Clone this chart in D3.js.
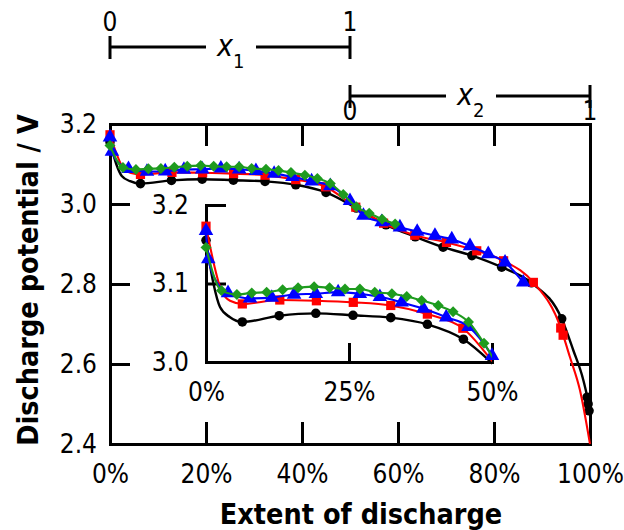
<!DOCTYPE html>
<html>
<head>
<meta charset="utf-8">
<script src="https://cdn.jsdelivr.net/npm/d3@7"></script>
<style>
  body { margin: 0; background: #fff; }
  text { font-family: "DejaVu Sans Condensed", "DejaVu Sans", sans-serif; }
</style>
</head>
<body>
<div id="chart"></div>
<script>
/**
 * DATA  [extent of discharge (%), potential (V)]
 * marks = points drawn with a symbol, extra = line-only points
 */
const blackMarks = [[0, 3.155], [6.35, 3.051], [12.8, 3.059], [19.2, 3.062], [25.7, 3.0595], [32.3, 3.0565],
  [38.7, 3.048], [45, 3.029], [51.3, 2.99], [57.5, 2.948], [63.6, 2.918], [69.4, 2.892], [75.4, 2.871],
  [81.6, 2.842], [87.8, 2.803], [94.1, 2.713], [99.4, 2.517], [99.6, 2.5], [99.8, 2.483]];
const blackExtra = [[1.3, 3.1], [2.45, 3.07], [4.2, 3.057], [96.5, 2.635], [98.6, 2.56]];

const redMarks = [[0, 3.173], [6.35, 3.074], [12.9, 3.079], [19.3, 3.078], [25.75, 3.076], [32.3, 3.072],
  [38.7, 3.061], [44.9, 3.043], [51.2, 2.992], [57, 2.952], [63.5, 2.922], [70.1, 2.904], [76.4, 2.883],
  [82, 2.858], [88.2, 2.804], [93.9, 2.69], [94.4, 2.672]];
const redExtra = [[2.7, 3.091], [4.2, 3.078], [95.8, 2.618], [97.9, 2.535], [100, 2.4]];

const blueMarks = [[0, 3.167], [0.4, 3.131], [3.85, 3.088], [7.7, 3.081], [11.5, 3.082], [15.4, 3.086],
  [19.2, 3.087], [23.1, 3.089], [26.9, 3.087], [30.4, 3.083], [34.2, 3.076], [38, 3.068], [42, 3.057],
  [45.9, 3.045], [50, 3.008], [52.8, 2.971], [56.6, 2.955], [60.4, 2.942], [64, 2.931], [67.7, 2.921],
  [71.2, 2.912], [75, 2.895], [78.8, 2.875], [82.3, 2.854], [86.1, 2.804]];
const blueExtra = [[2.2, 3.098]];

const greenMarks = [[0, 3.146], [2.7, 3.091], [5.4, 3.086], [8, 3.088], [10.6, 3.089], [13.4, 3.092],
  [16.1, 3.0945], [18.9, 3.096], [21.6, 3.0945], [24.3, 3.093], [26.9, 3.093], [29.5, 3.089], [32.5, 3.087],
  [35.1, 3.0835], [37.7, 3.0785], [40.6, 3.072], [43.2, 3.064], [45.9, 3.051], [48.6, 3.024], [51.3, 2.993],
  [54, 2.977], [56.7, 2.962], [59.4, 2.95]];
const greenExtra = [];

const xTicks = [0, 20, 40, 60, 80, 100];
const yTicks = [2.4, 2.6, 2.8, 3.0, 3.2];
const insetXTicks = [0, 25, 50];
const insetYTicks = [3.0, 3.1, 3.2];
const barTicks = [0, 1];

/**
 * CONSTANTS
 * */
const width = 624, height = 530;
const FONT = 26;
const TITLE_FONT = 28.5;

const series = [
  { marks: blackMarks, extra: blackExtra, color: "#000000", sym: d3.symbolCircle, size: 72, rot: 0 },
  { marks: redMarks, extra: redExtra, color: "#ff0000", sym: d3.symbolSquare, size: 85, rot: 0 },
  { marks: blueMarks, extra: blueExtra, color: "#0000ff", sym: d3.symbolTriangle, size: 92, rot: 0 },
  { marks: greenMarks, extra: greenExtra, color: "#1e9b1e", sym: d3.symbolSquare, size: 60, rot: 45 }
];

const svg = d3.select("#chart").append("svg")
  .attr("width", width)
  .attr("height", height);

// main scales
const x = d3.scaleLinear().domain([0, 100]).range([110, 590]);
const y = d3.scaleLinear().domain([2.4, 3.2]).range([444, 124]);
// inset scales
const xi = d3.scaleLinear().domain([0, 50]).range([206, 492]);
const yi = d3.scaleLinear().domain([3.0, 3.2]).range([362, 205]);
// x1 / x2 bars
const xs1 = d3.scaleLinear().domain([0, 1]).range([110, 350]);
const xs2 = d3.scaleLinear().domain([0, 1]).range([350, 590]);

function styleAxis(g) {
  g.attr("font-family", null).attr("font-size", FONT);
  g.select(".domain").attr("stroke-width", 3).attr("stroke-linecap", "square");
  g.selectAll(".tick line").attr("stroke-width", 3);
  g.selectAll(".tick text").attr("fill", "#000");
}

const pct = d => d + "%";

// main axes
svg.append("g").attr("transform", "translate(0,444)")
  .call(d3.axisBottom(x).tickValues(xTicks).tickSize(-22).tickSizeOuter(0).tickPadding(21).tickFormat(pct))
  .call(styleAxis);
svg.append("g").attr("transform", "translate(0,124)")
  .call(d3.axisTop(x).tickValues([20, 40, 60, 80]).tickSize(-22).tickSizeOuter(0).tickFormat(""))
  .call(styleAxis);
svg.append("g").attr("transform", "translate(110,0)")
  .call(d3.axisLeft(y).tickValues(yTicks).tickSize(-20).tickSizeOuter(0).tickPadding(13).tickFormat(d3.format(".1f")))
  .call(styleAxis);
svg.append("g").attr("transform", "translate(590,0)")
  .call(d3.axisRight(y).tickValues([2.6, 2.8, 3.0]).tickSize(-20).tickSizeOuter(0).tickFormat(""))
  .call(styleAxis);

// inset axes
svg.append("g").attr("transform", "translate(0,362)")
  .call(d3.axisBottom(xi).tickValues(insetXTicks).tickSize(-19).tickSizeOuter(0).tickPadding(21).tickFormat(pct))
  .call(styleAxis);
svg.append("g").attr("transform", "translate(206,0)")
  .call(d3.axisLeft(yi).tickValues(insetYTicks).tickSize(-20).tickSizeOuter(0).tickPadding(17).tickFormat(d3.format(".1f")))
  .call(styleAxis);

// inset clip so lines stop at 50%
svg.append("clipPath").attr("id", "insetClip")
  .append("rect")
  .attr("x", xi(0) - 12).attr("y", yi(3.2) - 30)
  .attr("width", xi(50) - xi(0) + 12).attr("height", yi(3.0) - yi(3.2) + 40);

function drawSeries(g, sx, sy, maxX, clip) {
  series.forEach(s => {
    const pts = s.marks.concat(s.extra).sort((a, b) => a[0] - b[0]);
    const line = d3.line().x(d => sx(d[0])).y(d => sy(d[1])).curve(d3.curveMonotoneX);
    const path = g.append("path")
      .attr("d", line(pts))
      .attr("fill", "none")
      .attr("stroke", s.color)
      .attr("stroke-width", s.color === "#000000" ? 2.4 : 2.1);
    if (clip) path.attr("clip-path", "url(#insetClip)");
    const sym = d3.symbol().type(s.sym).size(s.size);
    g.selectAll(null)
      .data(s.marks.filter(d => d[0] <= maxX + 0.01))
      .join("path")
      .attr("d", sym)
      .attr("fill", s.color)
      .attr("transform", d => `translate(${sx(d[0])},${sy(d[1])}) rotate(${s.rot})`);
  });
}

drawSeries(svg.append("g"), x, y, 100, false);
drawSeries(svg.append("g"), xi, yi, 50, true);

// axis titles
svg.append("text")
  .attr("x", 361).attr("y", 524)
  .attr("text-anchor", "middle")
  .attr("font-size", TITLE_FONT).attr("font-weight", "bold")
  .text("Extent of discharge");
svg.append("text")
  .attr("transform", "translate(38,280) rotate(-90)")
  .attr("text-anchor", "middle")
  .attr("font-size", TITLE_FONT).attr("font-weight", "bold")
  .text("Discharge potential / V");

// x1 / x2 range bars
function rangeBar(sc, yBar, name, sub, labelY) {
  const g = svg.append("g").attr("stroke", "#000").attr("stroke-width", 3);
  const mid = (sc(0) + sc(1)) / 2;
  g.append("line").attr("x1", sc(0)).attr("x2", mid - 24).attr("y1", yBar).attr("y2", yBar);
  g.append("line").attr("x1", mid + 26).attr("x2", sc(1)).attr("y1", yBar).attr("y2", yBar);
  g.selectAll(null).data(barTicks).join("line")
    .attr("x1", d => sc(d)).attr("x2", d => sc(d))
    .attr("y1", yBar - 11).attr("y2", yBar + 12);
  svg.selectAll(null).data(barTicks).join("text")
    .attr("x", d => sc(d)).attr("y", labelY)
    .attr("text-anchor", "middle")
    .attr("font-size", FONT)
    .text(d => d);
  const t = svg.append("text")
    .attr("x", mid - 13).attr("y", yBar + 9)
    .attr("font-size", 30).attr("font-style", "italic");
  t.append("tspan").text(name);
  t.append("tspan").attr("font-size", 20).attr("font-style", "normal").attr("dy", 12).text(sub);
}

rangeBar(xs1, 47, "x", "1", 31);
rangeBar(xs2, 96, "x", "2", 120);
</script>
</body>
</html>
